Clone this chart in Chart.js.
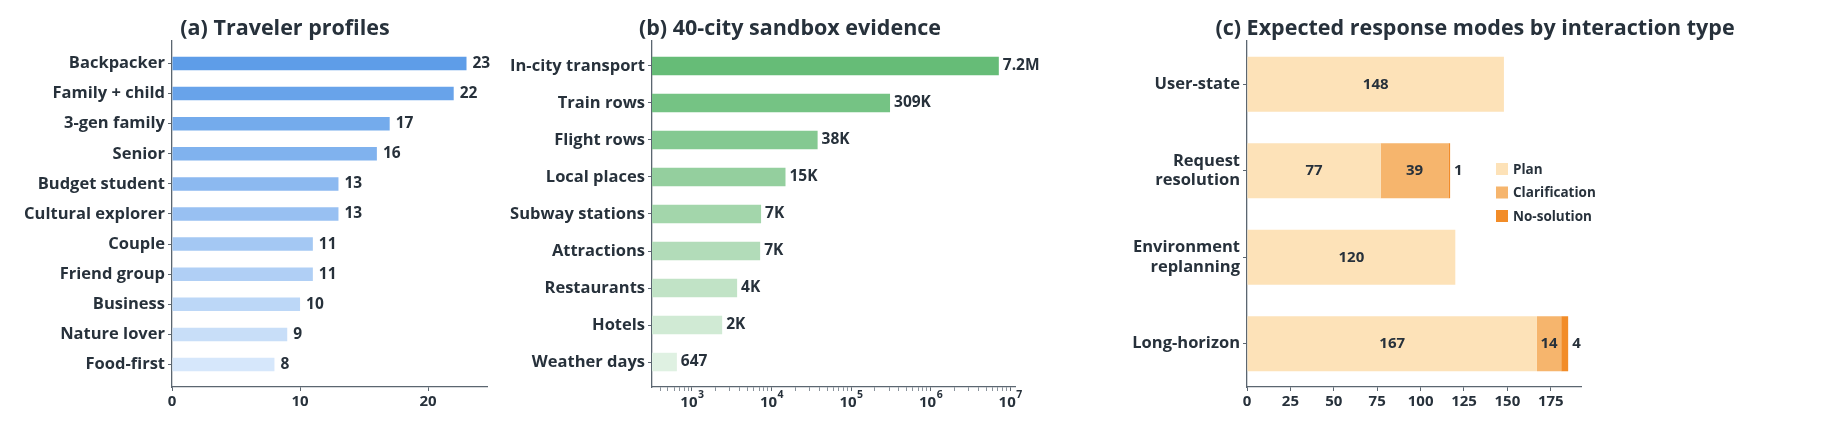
<!DOCTYPE html>
<html><head><meta charset="utf-8">
<script src="https://cdn.jsdelivr.net/npm/chart.js@4.4.1/dist/chart.umd.min.js"></script>
<style>
html,body{margin:0;padding:0;background:#fff;width:1845px;height:427px;overflow:hidden;}
.pan{position:absolute;top:0;height:427px;}
</style></head><body>
<div class="pan" style="left:0;width:570px"><canvas id="ca"></canvas></div>
<div class="pan" style="left:480px;width:620px"><canvas id="cb"></canvas></div>
<div class="pan" style="left:1080px;width:765px"><canvas id="cc"></canvas></div>
<script>
// ---------- data ----------
const profileLabels = ['Backpacker','Family + child','3-gen family','Senior','Budget student','Cultural explorer','Couple','Friend group','Business','Nature lover','Food-first'];
const profileCounts = [23,22,17,16,13,13,11,11,10,9,8];
const profileTicks = [0,10,20];

const sandboxLabels = ['In-city transport','Train rows','Flight rows','Local places','Subway stations','Attractions','Restaurants','Hotels','Weather days'];
const sandboxCounts = [7200000,309000,38000,15000,7400,7200,3700,2400,647];
const sandboxText = ['7.2M','309K','38K','15K','7K','7K','4K','2K','647'];
const logMajorTicks = [1e3,1e4,1e5,1e6,1e7];

const modeCategories = ['User-state',['Request','resolution'],['Environment','replanning'],'Long-horizon'];
const planCounts = [148,77,120,167];
const clarificationCounts = [0,39,0,14];
const noSolutionCounts = [0,1,0,4];
const modeTicks = [0,25,50,75,100,125,150,175];

// ---------- styles ----------
const profileColors = ['#5e9de8','#68a3ea','#74abec','#80b2ee','#8cb9f0','#98c0f2','#a4c8f3','#b0cff5','#bcd7f7','#c8def8','#d6e7fb'];
const sandboxColors = ['#66bc77','#75c384','#84c991','#94cf9e','#a3d6ab','#b2dcb9','#c1e3c6','#d0ead4','#dff1e2'];
const modeColors = ['#fde2b8','#f6b56d','#f28c28'];

const FONT = "'Open Sans', sans-serif";
const INK = '#27313b', AXIS = '#5b6670';
Chart.defaults.font.family = FONT;
Chart.defaults.font.weight = 'bold';
Chart.defaults.color = INK;
Chart.defaults.animation = false;

const TICK = 16.5, VAL = 15.5;

function spanHook(h) {
  return (scale) => {
    const n = scale.getLabels().length;
    const pad = 0.05 * (n - 1 + h);
    scale._startValue = -(h / 2 + pad);
    scale._valueRange = (n - 1 + h) * 1.1;
  };
}
function titleOpts(text) {
  return { display: true, text, align: 'center', color: INK,
           font: { size: 21.5, weight: 'bold', family: FONT, lineHeight: 1.0 },
           padding: { top: 18, bottom: 1.5 } };
}
function yAxis(h, w) {
  return {
    type: 'category', offset: true,
    afterBuildTicks: spanHook(h),
    afterFit: (s) => { s.width = w; },
    grid: { display: true, offset: false, drawOnChartArea: false, drawTicks: true, tickLength: 4, tickColor: AXIS, tickWidth: 1 },
    border: { display: true, color: AXIS, width: 1.3 },
    ticks: { color: INK, font: { size: TICK, weight: 'bold' }, padding: 3, autoSkip: false }
  };
}
function spacer(w) {
  return { type: 'category', position: 'right', display: true,
           grid: { display: false }, border: { display: false }, ticks: { display: false },
           afterFit: (s) => { s.width = w; } };
}
function xGrid() {
  return { display: true, drawOnChartArea: false, drawTicks: true, tickLength: 4, tickColor: AXIS, tickWidth: 1 };
}

const endLabels = {
  id: 'endLabels',
  afterDatasetsDraw(chart, args, opts) {
    const ctx = chart.ctx, meta = chart.getDatasetMeta(0);
    ctx.save();
    ctx.font = `bold ${opts.size}px ${FONT}`;
    ctx.fillStyle = INK; ctx.textAlign = 'left'; ctx.textBaseline = 'middle';
    meta.data.forEach((el, i) => ctx.fillText(opts.texts[i], el.x + opts.gap, el.y));
    ctx.restore();
  }
};

// ---------- (a) ----------
new Chart(document.getElementById('ca'), {
  type: 'bar',
  data: { labels: profileLabels, datasets: [{ data: profileCounts, backgroundColor: profileColors, borderWidth: 0,
          categoryPercentage: 0.45, barPercentage: 1 }] },
  options: {
    indexAxis: 'y', responsive: true, maintainAspectRatio: false,
    layout: { padding: { left: 5, right: 5, top: 0, bottom: 0 } },
    plugins: { legend: { display: false }, tooltip: { enabled: false }, title: titleOpts('(a) Traveler profiles'),
               endLabels: { texts: profileCounts.map(String), gap: 6, size: VAL } },
    scales: {
      y: yAxis(0.45, 167),
      yR: spacer(78),
      x: { type: 'linear', min: 0, max: 24.6, afterFit: (s) => { s.height = 40; },
           afterBuildTicks: (s) => { s.ticks = profileTicks.map(v => ({ value: v })); },
           grid: xGrid(), border: { display: true, color: AXIS, width: 1.3 },
           ticks: { color: INK, font: { size: 15, weight: 'bold' }, padding: 2 } }
    }
  },
  plugins: [endLabels]
});

// ---------- (b) ----------
const logLabels = {
  id: 'logLabels',
  afterDraw(chart) {
    const ctx = chart.ctx, sc = chart.scales.x;
    ctx.save(); ctx.fillStyle = INK; ctx.textBaseline = 'alphabetic'; ctx.textAlign = 'left';
    logMajorTicks.forEach(v => {
      const x = sc.getPixelForValue(v);
      const ex = String(Math.round(Math.log10(v)));
      ctx.font = `bold 15px ${FONT}`; const w1 = ctx.measureText('10').width;
      ctx.font = `bold 10.5px ${FONT}`; const w2 = ctx.measureText(ex).width;
      const x0 = x - (w1 + w2) / 2;
      ctx.font = `bold 15px ${FONT}`; ctx.fillText('10', x0, sc.top + 20);
      ctx.font = `bold 10.5px ${FONT}`; ctx.fillText(ex, x0 + w1 + 0.5, sc.top + 11);
    });
    ctx.restore();
  }
};
new Chart(document.getElementById('cb'), {
  type: 'bar',
  data: { labels: sandboxLabels, datasets: [{ data: sandboxCounts, backgroundColor: sandboxColors, borderWidth: 0,
          categoryPercentage: 0.5, barPercentage: 1 }] },
  options: {
    indexAxis: 'y', responsive: true, maintainAspectRatio: false,
    layout: { padding: { left: 5, right: 5, top: 0, bottom: 0 } },
    plugins: { legend: { display: false }, tooltip: { enabled: false }, title: titleOpts('(b) 40-city sandbox evidence'),
               endLabels: { texts: sandboxText, gap: 4, size: VAL } },
    scales: {
      y: yAxis(0.5, 167),
      yR: spacer(80),
      x: { type: 'logarithmic', min: 315, max: 1.15e7, afterFit: (s) => { s.height = 40; },
           afterBuildTicks: (s) => {
             const t = [];
             const first = logMajorTicks[0] / 10;
             for (let d = first; d <= logMajorTicks[logMajorTicks.length - 1]; d *= 10)
               for (let m = 1; m <= 9; m++) { const v = m * d; if (v >= s.min && v <= s.max) t.push({ value: v, major: m === 1 }); }
             s.ticks = t;
           },
           grid: Object.assign(xGrid(), { tickColor: (c) => c.tick && c.tick.major ? AXIS : '#8a939c' }),
           border: { display: true, color: AXIS, width: 1.3 },
           ticks: { callback: () => '', autoSkip: false, padding: 1 } }
    }
  },
  plugins: [endLabels, logLabels]
});

// ---------- (c) ----------
const stackLabels = {
  id: 'stackLabels',
  afterDatasetsDraw(chart, args, opts) {
    const ctx = chart.ctx;
    ctx.save(); ctx.font = `bold ${opts.size}px ${FONT}`; ctx.fillStyle = INK; ctx.textBaseline = 'middle';
    chart.data.datasets.forEach((ds, d) => {
      chart.getDatasetMeta(d).data.forEach((el, i) => {
        const v = ds.data[i]; if (!v) return;
        if (v >= opts.minInside) { ctx.textAlign = 'center'; ctx.fillText(String(v), (el.x + el.base) / 2, el.y); }
        else { ctx.textAlign = 'left'; ctx.fillText(String(v), el.x + opts.gap, el.y); }
      });
    });
    ctx.restore();
  }
};
const boxLegend = {
  id: 'boxLegend',
  afterDraw(chart, args, opts) {
    const ctx = chart.ctx, { left, top } = chart.chartArea;
    ctx.save(); ctx.font = `bold ${opts.size}px ${FONT}`; ctx.textBaseline = 'middle'; ctx.textAlign = 'left';
    chart.data.datasets.forEach((ds, d) => {
      const y = top + opts.dy + d * opts.step;
      ctx.fillStyle = ds.backgroundColor;
      ctx.fillRect(left + opts.dx, y - opts.box / 2, opts.box, opts.box);
      ctx.fillStyle = INK;
      ctx.fillText(ds.label, left + opts.dx + opts.box + opts.textGap, y + 1);
    });
    ctx.restore();
  }
};
new Chart(document.getElementById('cc'), {
  type: 'bar',
  data: { labels: modeCategories, datasets: [
    { label: 'Plan', data: planCounts, backgroundColor: modeColors[0], borderWidth: 0, categoryPercentage: 0.636, barPercentage: 1 },
    { label: 'Clarification', data: clarificationCounts, backgroundColor: modeColors[1], borderWidth: 0, categoryPercentage: 0.636, barPercentage: 1 },
    { label: 'No-solution', data: noSolutionCounts, backgroundColor: modeColors[2], borderWidth: 0, categoryPercentage: 0.636, barPercentage: 1 }
  ] },
  options: {
    indexAxis: 'y', responsive: true, maintainAspectRatio: false,
    layout: { padding: { left: 35, right: 10, top: 0, bottom: 0 } },
    plugins: { legend: { display: false }, tooltip: { enabled: false },
               title: titleOpts('(c) Expected response modes by interaction type'),
               stackLabels: { size: 15, minInside: 10, gap: 4 },
               boxLegend: { dx: 249, dy: 128, step: 23.5, box: 12, textGap: 5, size: 13.5 } },
    scales: {
      y: Object.assign(yAxis(0.636, 132), { stacked: true }),
      yR: spacer(254),
      x: { type: 'linear', stacked: true, min: 0, max: 192.4, afterFit: (s) => { s.height = 40; },
           afterBuildTicks: (s) => { s.ticks = modeTicks.map(v => ({ value: v })); },
           grid: xGrid(), border: { display: true, color: AXIS, width: 1.3 },
           ticks: { color: INK, font: { size: 15, weight: 'bold' }, padding: 2 } }
    }
  },
  plugins: [stackLabels, boxLegend]
});
</script>
</body></html>
